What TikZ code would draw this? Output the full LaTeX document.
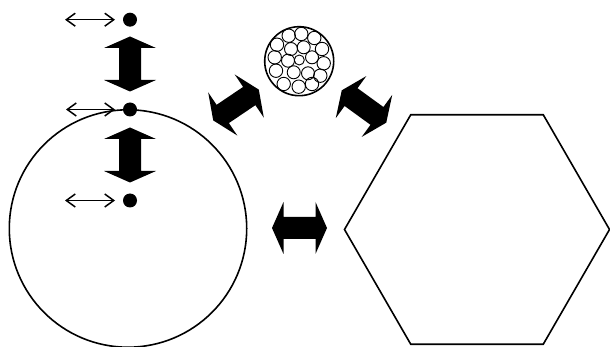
\documentclass[tikz,border=0pt]{standalone}
\usetikzlibrary{arrows.meta}
\begin{document}
\begin{tikzpicture}[x=1pt,y=-1pt,
  outline/.style={draw=black,line width=1.6pt},
  wire/.style={draw=black,line width=0.9pt},
  dotnode/.style={circle,fill=black,inner sep=0pt,minimum size=14pt},
  thinarrow/.style={line width=1.5pt,{Straight Barb[length=9pt,width=13pt]}-{Straight Barb[length=9pt,width=13pt]}},
  bigarrow/.pic={\fill[black] (-27.5,0) -- (-16,26) -- (-16,11) -- (16,11) -- (16,26) -- (27.5,0) -- (16,-26) -- (16,-11) -- (-16,-11) -- (-16,-26) -- cycle;}
]
\useasboundingbox (0,0) rectangle (610,347);

% big cell circle
\coordinate (cellc) at (128,228.5);
\draw[outline] (cellc) circle[radius=118.7pt];

% hexagon
\coordinate (hex) at (477,229.5);
\draw[outline,line join=miter] ([shift={(0:132.5)}]hex) -- ([shift={(60:132.5)}]hex) -- ([shift={(120:132.5)}]hex) -- ([shift={(180:132.5)}]hex) -- ([shift={(240:132.5)}]hex) -- ([shift={(300:132.5)}]hex) -- cycle;

% bundle
\coordinate (bundle) at (299.2,61.2);
\draw[outline] (bundle) circle[radius=34.5pt];
\foreach \x/\y in {288.7/35.7, 301.3/34, 314.3/38, 322/49, 323.7/63.3, 320.3/75.7, 312/84, 298.7/86.7, 283.7/84, 276/70.7, 274.7/57.3, 277/44.7}
  \draw[wire] (\x,\y) circle[radius=6.7pt];
\foreach \x/\y in {291/49, 303.7/47.3, 312/57.3, 308/73.3, 293.7/72.3, 288/60.7}
  \draw[wire] (\x,\y) circle[radius=6.5pt];
\draw[wire] (299.3,60) circle[radius=5pt];

% dots
\node[dotnode] (d1) at (130,19.7) {};
\node[dotnode] (d2) at (130,109.5) {};
\node[dotnode] (d3) at (130,200.5) {};

% thin double arrows
\coordinate (l1) at (65,19.7);  \coordinate (r1) at (115,19.7);
\coordinate (l2) at (66,109.5); \coordinate (r2) at (115,109.5);
\coordinate (l3) at (65,200.5); \coordinate (r3) at (115,200.5);
\draw[thinarrow] (l1) -- (r1);
\draw[thinarrow] (l2) -- (r2);
\draw[thinarrow] (l3) -- (r3);

% thick double arrows
\pic[rotate=90] at (130,64) {bigarrow};
\pic[rotate=90] at (130,155) {bigarrow};
\pic at (299.5,228) {bigarrow};
\pic[rotate=34] at (236,105) {bigarrow};
\pic[rotate=-36] at (364,106.5) {bigarrow};
\end{tikzpicture}
\end{document}
